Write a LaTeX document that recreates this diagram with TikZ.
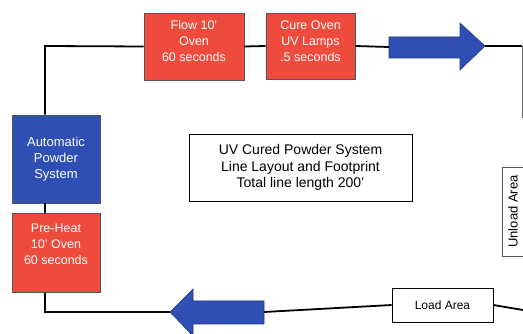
\documentclass[tikz,border=0pt]{standalone}
\usepackage{fontspec}
\setmainfont{Liberation Sans}
\definecolor{ovenred}{HTML}{EE4B3C}
\definecolor{sysblue}{HTML}{2F4FB5}
\definecolor{boxline}{HTML}{555555}
\begin{document}
\begin{tikzpicture}[x=1pt,y=-1pt,
  redbox/.style={draw=boxline,line width=0.7pt,fill=ovenred,inner sep=0pt},
  boxtext/.style={text=white,align=center,font=\fontsize{12.5}{16}\selectfont,anchor=north},
  bluebox/.style={draw=boxline,line width=0.7pt,fill=sysblue,text=white,align=center,
    font=\fontsize{13}{16}\selectfont,inner sep=0pt},
  wbox/.style={draw=black,line width=0.7pt,fill=white,align=center,inner sep=0pt},
  conn/.style={draw=black,line width=1.8pt},
  bigarrow/.style={fill=sysblue,draw=sysblue!70!black,line width=0.6pt,line join=miter}]
\useasboundingbox (0,0) rectangle (523,334);
\clip (0,0) rectangle (523,334);
\fill[white] (0,0) rectangle (523,334);

% nodes
\node[redbox,minimum width=100pt,minimum height=67pt] (flow) at (194,46.5) {};
\node[boxtext] (flowtext) at (194,17) {Flow 10'\\Oven\\60 seconds};
\node[redbox,minimum width=89pt,minimum height=66pt] (cure) at (310.5,46) {};
\node[boxtext] (curetext) at (310.5,17) {Cure Oven\\UV Lamps\\.5 seconds};
\node[bluebox,minimum width=88pt,minimum height=88pt] (aps) at (56,159)
  {Automatic\\Powder\\System};
\node[redbox,minimum width=88pt,minimum height=79pt,anchor=north] (pre) at (56,213) {};
\node[boxtext] (pretext) at (56,220) {Pre-Heat\\10' Oven\\60 seconds};
\node[wbox,minimum width=223pt,minimum height=67pt,font=\fontsize{14}{16.7}\selectfont] (info) at (300.5,167.5)
  {UV Cured Powder System\\Line Layout and Footprint\\Total line length 200'};
\node[wbox,minimum width=101pt,minimum height=34pt,font=\fontsize{12}{14}\selectfont] (load) at (442.5,305)
  {Load Area};
\node[wbox,draw=boxline,minimum width=89pt,minimum height=28pt,rotate=90,font=\fontsize{13}{15}\selectfont] (unload) at (516,211.5)
  {\raisebox{6pt}{Unload Area}};

% right arrow
\coordinate (rtail) at (389,47);
\coordinate (rtip) at (485,46);
\path[bigarrow] (389,37) -- (460,37) -- (460,23) -- (rtip) -- (460,70) -- (460,58) -- (389,58) -- cycle;
% left arrow
\coordinate (ltip) at (170,312);
\coordinate (ltail) at (264,312);
\path[bigarrow] (ltail |- 0,301) -- (193,301) -- (193,289) -- (ltip) -- (193,336) -- (193,324) -- (264,324) -- cycle;

% connectors
\coordinate (cl) at (45,46);
\coordinate (cb) at (45,312);
\coordinate (rc) at (522,46);
\coordinate (rd) at (522,118);
\coordinate (re) at (523,310);
\draw[conn] (flow.west) -- (cl) -- (cl |- aps.north);
\draw[conn] (aps.south -| cl) -- (pre.north -| cl);
\draw[conn] (pre.south -| cb) -- (cb) -- (ltip);
\draw[conn] (flow.east) -- (cure.west);
\draw[conn] (cure.east) -- (rtail);
\draw[conn] (rtip) -- (rc);
\draw[draw=black!60,line width=1pt] (rc) -- (rd);
\draw[conn] (ltail) -- (load.west);
\draw[conn] (load.east) -- (re);
\end{tikzpicture}
\end{document}
